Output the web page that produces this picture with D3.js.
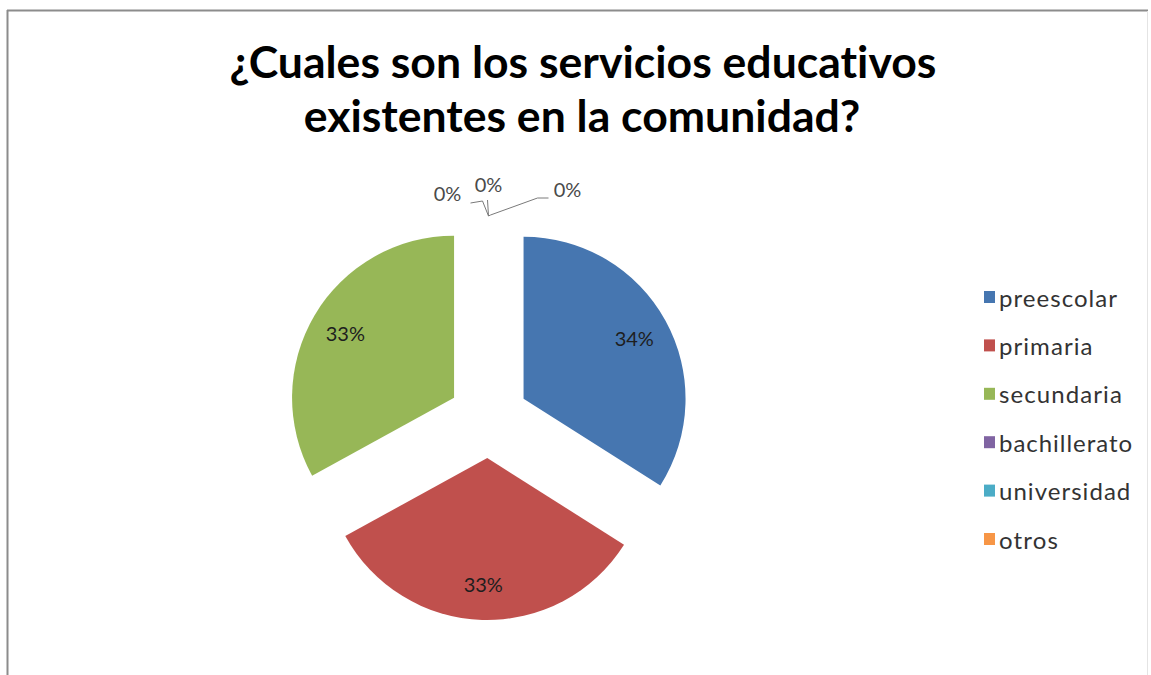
<!DOCTYPE html>
<html><head><meta charset="utf-8">
<script src="https://cdn.jsdelivr.net/npm/d3@7"></script>
<style>body{margin:0;background:#fff} text{font-variant-ligatures:none}</style>
</head><body><svg id="c" width="1151" height="675"></svg>
<script>
const categories = ["preescolar","primaria","secundaria","bachillerato","universidad","otros"];
const values = [34,33,33,0,0,0];
const colors = ["#4676B0","#C0504D","#97B757","#8064A2","#4BACC6","#F79646"];
const titleLines = ["¿Cuales son los servicios educativos","existentes en la comunidad?"];

const svg = d3.select("#c");
const W = 1151, H = 675;
svg.append("rect").attr("width",W).attr("height",H).attr("fill","#fff");
// frame
svg.append("line").attr("x1",7).attr("x2",1148).attr("y1",10.5).attr("y2",10.5).attr("stroke","#8c8c8c").attr("stroke-width",2);
svg.append("line").attr("x1",7.5).attr("x2",7.5).attr("y1",10).attr("y2",H).attr("stroke","#8c8c8c").attr("stroke-width",2);
svg.append("line").attr("x1",1147.5).attr("x2",1147.5).attr("y1",11).attr("y2",H).attr("stroke","#e4e4e4").attr("stroke-width",1);

// title
const titleFont = "Lato, 'Open Sans', sans-serif";
const tg = svg.append("g");
const t1 = tg.append("text").attr("x",583).attr("y",78).attr("text-anchor","middle")
  .attr("font-family",titleFont).attr("font-weight","bold").attr("font-size",40).attr("fill","#000").text(titleLines[0]);
const w1 = t1.node().getComputedTextLength();
const fs = 40 * 707 / w1;
t1.attr("font-size",fs);
tg.append("text").attr("x",582).attr("y",132).attr("text-anchor","middle")
  .attr("font-family",titleFont).attr("font-weight","bold").attr("font-size",fs).attr("fill","#000").text(titleLines[1]);

// pie
const cx = 488.5, cy = 418, r = 162, ex = 40;
const total = d3.sum(values);
const pie = d3.pie().sort(null).value(d=>d);
const arcs = pie(values);
const arc = d3.arc().innerRadius(0).outerRadius(r);
const pg = svg.append("g").attr("transform",`translate(${cx},${cy})`);
const off = a => { const m=(a.startAngle+a.endAngle)/2; return [Math.sin(m)*ex, -Math.cos(m)*ex]; };
pg.selectAll("path").data(arcs).join("path")
  .attr("transform",d=>{const o=off(d);return `translate(${o[0]},${o[1]})`;})
  .attr("d",arc).attr("fill",(d,i)=>colors[i]);

const pct = d3.format(".0%");
const labelFont = "Lato, 'Open Sans', sans-serif";
// inner labels
arcs.forEach((d,i)=>{
  if (d.value<=0) return;
  const m=(d.startAngle+d.endAngle)/2;
  const lr = ex + r*0.78;
  pg.append("text").attr("x",Math.sin(m)*lr).attr("y",-Math.cos(m)*lr)
    .attr("text-anchor","middle").attr("dominant-baseline","central")
    .attr("font-family",labelFont).attr("font-size",20).attr("fill","#1e1e1e")
    .text(pct(d.value/total));
});
// zero labels with leaders
const zeros = arcs.filter(d=>d.value<=0);
const labelOffsets = [[-41,-23],[0,-32],[79,-27]];
const leaders = [[[-18,-13],[-6,-15],[0,0]],[[-1,-16],[0,0]],[[0,0],[2,-1],[49,-18],[60,-18]]];
zeros.forEach((d,k)=>{
  const m=(d.startAngle+d.endAngle)/2;
  const ax = Math.sin(m)*(ex+r), ay = -Math.cos(m)*(ex+r);
  pg.append("path").attr("d",d3.line()(leaders[k].map(p=>[ax+p[0],ay+p[1]])))
    .attr("fill","none").attr("stroke","#7a7a7a").attr("stroke-width",1);
  pg.append("text").attr("x",ax+labelOffsets[k][0]).attr("y",ay+labelOffsets[k][1])
    .attr("text-anchor","middle").attr("dominant-baseline","central")
    .attr("font-family",labelFont).attr("font-size",20).attr("fill","#4a4a4a")
    .text(pct(d.value/total));
});

// legend
const lg = svg.append("g");
const ly = d3.scalePoint().domain(categories).range([297,539]);
const legTexts = [];
categories.forEach((c,i)=>{
  lg.append("rect").attr("x",984).attr("y",ly(c)-6).attr("width",11).attr("height",12).attr("fill",colors[i]);
  legTexts.push(lg.append("text").attr("x",999).attr("y",ly(c)).attr("dominant-baseline","central")
    .attr("font-family",labelFont).attr("font-size",24).attr("fill","#333").text(c));
});
const bw = legTexts[3].node().getComputedTextLength();
const ratio = 133 / bw;
legTexts.forEach(t=>{
  const w = t.node().getComputedTextLength();
  t.attr("textLength", w*ratio).attr("lengthAdjust","spacing");
});
</script></body></html>
